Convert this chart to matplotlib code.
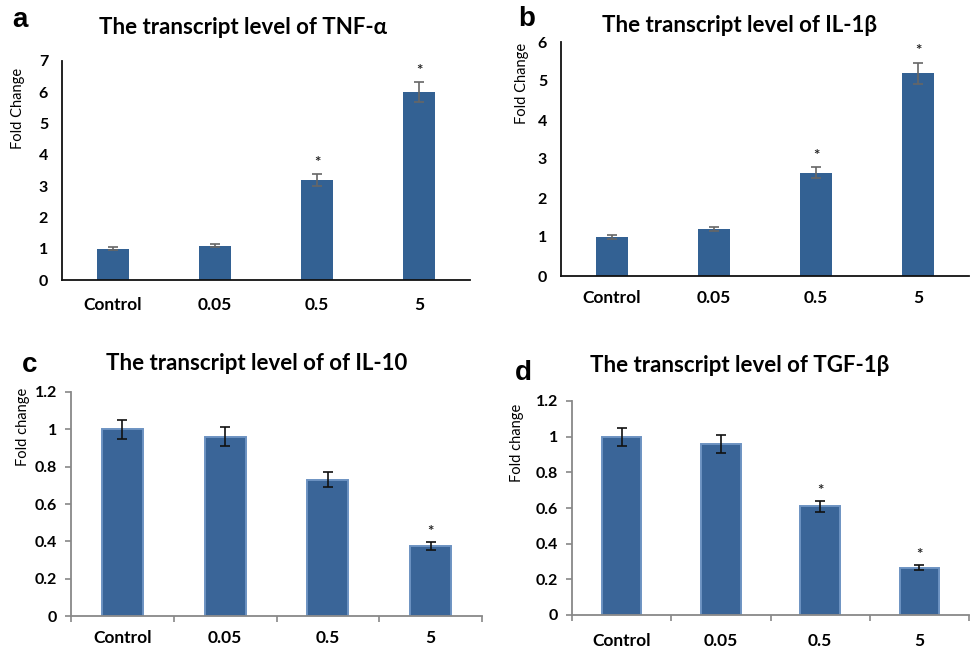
import matplotlib
matplotlib.use("Agg")
import matplotlib.pyplot as plt
import numpy as np

plt.rcParams['font.family'] = ['Lato', 'DejaVu Sans']

categories = ["Control", "0.05", "0.5", "5"]

tnf_values = [1.0, 1.1, 3.2, 6.0]
tnf_errors = [0.05, 0.05, 0.18, 0.32]
tnf_sig = [False, False, True, True]

il1b_values = [1.0, 1.2, 2.65, 5.2]
il1b_errors = [0.05, 0.05, 0.14, 0.27]
il1b_sig = [False, False, True, True]

il10_values = [1.0, 0.96, 0.73, 0.375]
il10_errors = [0.05, 0.05, 0.04, 0.02]
il10_sig = [False, False, False, True]

tgf_values = [1.0, 0.96, 0.61, 0.265]
tgf_errors = [0.05, 0.05, 0.03, 0.015]
tgf_sig = [False, False, True, True]

W, H = 971, 652
fig = plt.figure(figsize=(W / 100, H / 100), dpi=100)


def rect(l, r, t, b):
    return [l / W, 1 - b / H, (r - l) / W, (b - t) / H]


def ftext(x, y, s, **kw):
    fig.text(x / W, 1 - y / H, s, **kw)


def top_panel(box, vals, errs, sig, ymax, letter, title, lpos, tpos, ypos, xlab_pad):
    ax = fig.add_axes(rect(*box))
    x = np.arange(len(categories))
    ax.bar(x, vals, width=0.31, color='#336193', zorder=2)
    ax.errorbar(x, vals, yerr=errs, fmt='none', ecolor='#666666', elinewidth=1.2,
                capsize=3.5, capthick=1.2, zorder=3)
    for xi, v, e, s in zip(x, vals, errs, sig):
        if s:
            ax.text(xi, v + e + ymax * 0.02, '*', ha='center', va='bottom', fontsize=11,
                    fontweight='bold', color='#222222')
    ax.set_xlim(-0.5, 3.5)
    ax.set_ylim(0, ymax)
    ax.set_yticks(range(0, ymax + 1))
    ax.set_xticks(x)
    ax.set_xticklabels(categories, fontsize=12.5, fontweight='bold')
    ax.tick_params(axis='y', length=0, pad=10, labelsize=11.5)
    ax.tick_params(axis='x', length=0, pad=xlab_pad)
    for lab in ax.get_yticklabels():
        lab.set_fontweight('bold')
    for sp in ['top', 'right']:
        ax.spines[sp].set_visible(False)
    for sp in ['left', 'bottom']:
        ax.spines[sp].set_color('#111111')
        ax.spines[sp].set_linewidth(1.3)
    ftext(*lpos, letter, fontsize=20, fontweight='bold', family=['Liberation Sans', 'DejaVu Sans'],
          ha='center', va='center')
    ftext(*tpos, title, fontsize=16, fontweight='bold', ha='center', va='center')
    ftext(*ypos, 'Fold Change', fontsize=10.5, rotation=90, ha='center', va='center')
    return ax


def bottom_panel(box, vals, errs, sig, letter, title, lpos, tpos, ypos, xlab_pad):
    ax = fig.add_axes(rect(*box))
    x = np.arange(len(categories))
    ax.bar(x, vals, width=0.4, color='#3a6598', edgecolor='#6d93c2', linewidth=1.4, zorder=2)
    ax.errorbar(x, vals, yerr=errs, fmt='none', ecolor='#111111', elinewidth=1.2,
                capsize=3.5, capthick=1.2, zorder=3)
    for xi, v, e, s in zip(x, vals, errs, sig):
        if s:
            ax.text(xi, v + e + 0.015, '*', ha='center', va='bottom', fontsize=11,
                    fontweight='bold', color='#222222')
    ax.set_xlim(-0.5, 3.5)
    ax.set_ylim(0, 1.2)
    yt = [0, 0.2, 0.4, 0.6, 0.8, 1.0, 1.2]
    ax.set_yticks(yt)
    ax.set_yticklabels(['0', '0.2', '0.4', '0.6', '0.8', '1', '1.2'], fontsize=11.5, fontweight='bold')
    ax.set_xticks(x)
    ax.set_xticklabels(categories, fontsize=12.5, fontweight='bold')
    ax.set_xticks([-0.5, 0.5, 1.5, 2.5, 3.5], minor=True)
    ax.tick_params(axis='x', which='major', length=0, pad=xlab_pad)
    ax.tick_params(axis='x', which='minor', length=4, color='#888888', width=1.2)
    ax.tick_params(axis='y', length=4, color='#888888', width=1.2, pad=6)
    for sp in ['top', 'right']:
        ax.spines[sp].set_visible(False)
    for sp in ['left', 'bottom']:
        ax.spines[sp].set_color('#888888')
        ax.spines[sp].set_linewidth(1.3)
    ftext(*lpos, letter, fontsize=20, fontweight='bold', family=['Liberation Sans', 'DejaVu Sans'],
          ha='center', va='center')
    ftext(*tpos, title, fontsize=16, fontweight='bold', ha='center', va='center')
    ftext(*ypos, 'Fold change', fontsize=10.5, rotation=90, ha='center', va='center')
    return ax


top_panel((62, 470, 61, 280), tnf_values, tnf_errors, tnf_sig, 7, 'a',
          'The transcript level of TNF-α', (20, 20), (243, 27), (18, 108), 12)
top_panel((561, 969, 42, 276), il1b_values, il1b_errors, il1b_sig, 6, 'b',
          'The transcript level of IL-1β', (527, 19), (740, 26), (522, 83), 10)
bottom_panel((71, 482, 392, 616), il10_values, il10_errors, il10_sig, 'c',
             'The transcript level of of IL-10', (30, 365), (257, 363), (23, 427), 10)
bottom_panel((572, 969, 401, 615), tgf_values, tgf_errors, tgf_sig, 'd',
             'The transcript level of TGF-1β', (523, 373), (740, 366), (517, 443), 13)

fig.savefig('out.png', dpi=100)
